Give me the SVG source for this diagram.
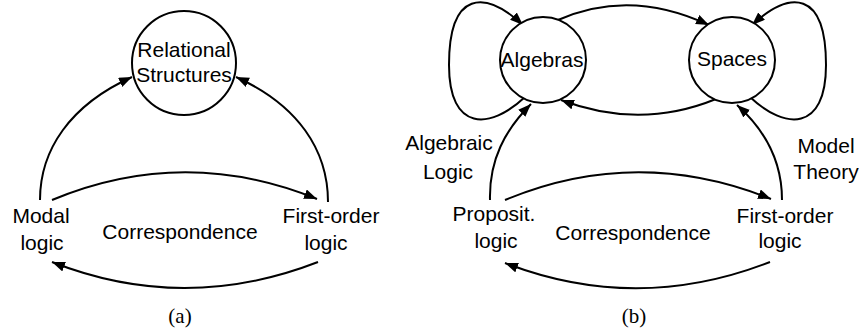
<svg xmlns="http://www.w3.org/2000/svg" width="859" height="331" viewBox="0 0 859 331">
<style>
.node{fill:#fff;stroke:#000;stroke-width:2}
.t{font-family:"Liberation Sans",Arial,sans-serif;font-size:21px;fill:#000;text-anchor:middle}
.cap{font-family:"Liberation Serif","Times New Roman",serif;font-size:21px;fill:#000;text-anchor:middle}
.e{fill:none;stroke:#000;stroke-width:2;marker-end:url(#ah)}
</style>
<defs>
<marker id="ah" markerUnits="userSpaceOnUse" markerWidth="14" markerHeight="11" refX="13" refY="5" orient="auto" viewBox="0 0 14 11">
<path d="M0,0 L13,5 L0,10 z" fill="#000"/>
</marker>
</defs>
<rect width="859" height="331" fill="#fff"/>
<g id="connectors">
<path class="e" d="M40 200 C40 150 70 105 132 77"/>
<path class="e" d="M328 202 C328 150 298 105 236 77"/>
<path class="e" d="M52 200 Q184 145 317 199"/>
<path class="e" d="M318 262 Q184 314 52 262"/>
<path class="e" d="M558 20 Q630 -12 709 25"/>
<path class="e" d="M716 99 Q640 130 561 100"/>
<path class="e" d="M525 97 C490 130 449 132 449 65 C449 -10 485 -10 523 25"/>
<path class="e" d="M750 97 C785 130 826 132 826 65 C826 -10 790 -10 752 25"/>
<path class="e" d="M490 200 C489 160 505 130 531 104"/>
<path class="e" d="M782 200 C782 160 765 130 737 105"/>
<path class="e" d="M505 200 Q637 145 771 199"/>
<path class="e" d="M770 262 Q637 314 505 263"/>
</g>
<g id="relational-structures">
<circle class="node" cx="184" cy="63" r="52"/>
<text class="t" x="184" y="57">Relational</text>
<text class="t" x="184" y="82">Structures</text>
</g>
<g id="modal-logic">
<text class="t" x="41" y="223">Modal</text>
<text class="t" x="42" y="250">logic</text>
</g>
<g id="first-order-logic-a">
<text class="t" x="331" y="223">First-order</text>
<text class="t" x="326" y="250">logic</text>
</g>
<g id="correspondence-a">
<text class="t" x="180" y="239">Correspondence</text>
</g>
<g id="caption-a"><text class="cap" x="180" y="323">(a)</text></g>
<g id="algebras">
<circle class="node" cx="543" cy="60" r="43"/>
<text class="t" x="542" y="67">Algebras</text>
</g>
<g id="spaces">
<circle class="node" cx="732" cy="60" r="43"/>
<text class="t" x="732" y="66">Spaces</text>
</g>
<g id="algebraic-logic">
<text class="t" x="449" y="150">Algebraic</text>
<text class="t" x="448" y="179">Logic</text>
</g>
<g id="model-theory">
<text class="t" x="826" y="153">Model</text>
<text class="t" x="826" y="179">Theory</text>
</g>
<g id="proposit-logic">
<text class="t" x="494" y="221">Proposit.</text>
<text class="t" x="496" y="248">logic</text>
</g>
<g id="first-order-logic-b">
<text class="t" x="785" y="223">First-order</text>
<text class="t" x="780" y="248">logic</text>
</g>
<g id="correspondence-b">
<text class="t" x="633" y="240">Correspondence</text>
</g>
<g id="caption-b"><text class="cap" x="634" y="323">(b)</text></g>
</svg>
